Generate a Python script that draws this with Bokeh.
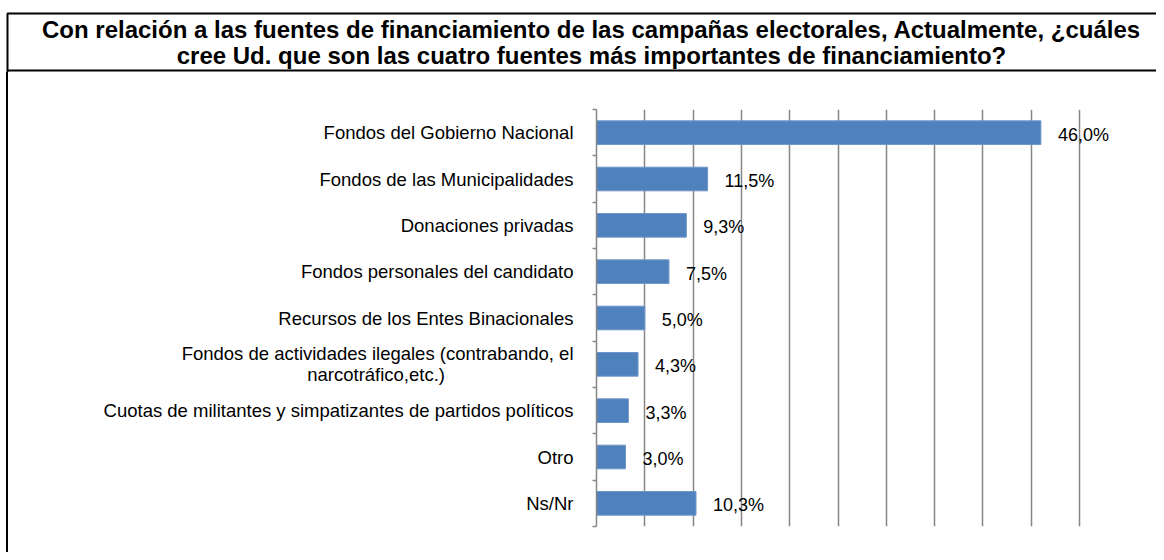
from bokeh.plotting import figure
from bokeh.layouts import column, row
from bokeh.models import (ColumnDataSource, Range1d, LinearAxis, FixedTicker, Grid, LabelSet, Spacer)
from bokeh.core.properties import value
from bokeh.embed import file_html
from bokeh.resources import INLINE

title_lines = [
    "Con relación a las fuentes de financiamiento de las campañas electorales, Actualmente, ¿cuáles",
    "cree Ud. que son las cuatro fuentes más importantes de financiamiento?",
]
categories = [
    "Fondos del Gobierno Nacional",
    "Fondos de las Municipalidades",
    "Donaciones privadas",
    "Fondos personales del candidato",
    "Recursos de los Entes Binacionales",
    "Fondos de actividades ilegales (contrabando, el\nnarcotráfico,etc.)" + "\u00a0" * 25,
    "Cuotas de militantes y simpatizantes de partidos políticos",
    "Otro",
    "Ns/Nr",
]
values = [46.0, 11.5, 9.3, 7.5, 5.0, 4.3, 3.3, 3.0, 10.3]
value_labels = ["46,0%", "11,5%", "9,3%", "7,5%", "5,0%", "4,3%", "3,3%", "3,0%", "10,3%"]
grid_ticks = [0, 5, 10, 15, 20, 25, 30, 35, 40, 45, 50]

W, H = 1156, 552
TH = 72                 # title band height
GAP, STRIP = 6, 2       # left margin and left border strip
CW, CH = W - GAP - STRIP, H - TH
FONT = "Liberation Sans"
GRID = "#868686"
n = len(categories)
pos = [n - i - 0.5 for i in range(n)]  # category slot centres, first category on top

# ---------------- title band ----------------
t = figure(width=W, height=TH, output_backend="svg", toolbar_location=None,
           x_range=Range1d(0, W), y_range=Range1d(TH, 0),
           x_axis_type=None, y_axis_type=None, min_border=0)
t.outline_line_color = None
t.background_fill_color = "white"
t.border_fill_color = "white"
t.quad(left=7, right=W + 20, top=13, bottom=70, fill_color=None, line_color="black", line_width=2)
t.segment(x0=7, y0=70, x1=7, y1=TH + 2, line_color="black", line_width=2)
t.text(x=[591] * len(title_lines), y=[29, 55], text=title_lines,
       text_align="center", text_baseline="middle",
       text_font=value(FONT), text_font_size="24px", text_font_style="bold", text_color="#000000")

# ---------------- chart ----------------
src = ColumnDataSource(dict(y=pos, val=values, lab=value_labels))

p = figure(width=CW, height=CH, output_backend="svg", toolbar_location=None,
           y_range=Range1d(0, n), x_range=Range1d(0, 56), x_axis_type=None, y_axis_type=None,
           min_border_left=588, min_border_right=19, min_border_top=37, min_border_bottom=26)
p.outline_line_color = None
p.background_fill_color = "white"
p.border_fill_color = "white"

p.add_layout(Grid(dimension=0, ticker=FixedTicker(ticks=grid_ticks),
                  grid_line_color=GRID, grid_line_width=1.5))

yaxis = LinearAxis(ticker=FixedTicker(ticks=pos, minor_ticks=list(range(n + 1))),
                   major_label_overrides={y: c for y, c in zip(pos, categories)},
                   axis_line_color=GRID, axis_line_width=1.5,
                   major_tick_line_color=None, major_tick_in=0, major_tick_out=0,
                   minor_tick_line_color=GRID, minor_tick_line_width=1.5,
                   minor_tick_in=0, minor_tick_out=4,
                   major_label_text_font=FONT, major_label_text_font_size="18.5px",
                   major_label_text_line_height=1.0,
                   major_label_text_color="#000000", major_label_standoff=19)
p.add_layout(yaxis, "left")

p.hbar(y="y", right="val", left=0, height=0.51, source=src,
       fill_color="#4F81BD", line_color="#6E96C8", line_width=1)

p.add_layout(LabelSet(x="val", y="y", text="lab", source=src, x_offset=17, y_offset=-2,
                      text_font=value(FONT), text_font_size="18px", text_color="#000000",
                      text_baseline="middle"))

gap = Spacer(width=GAP, height=CH)
strip = Spacer(width=STRIP, height=CH, styles={"background-color": "black"})
layout = column(t, row(gap, strip, p, spacing=0), spacing=0)

open("out.html", "w").write(file_html(layout, INLINE))
